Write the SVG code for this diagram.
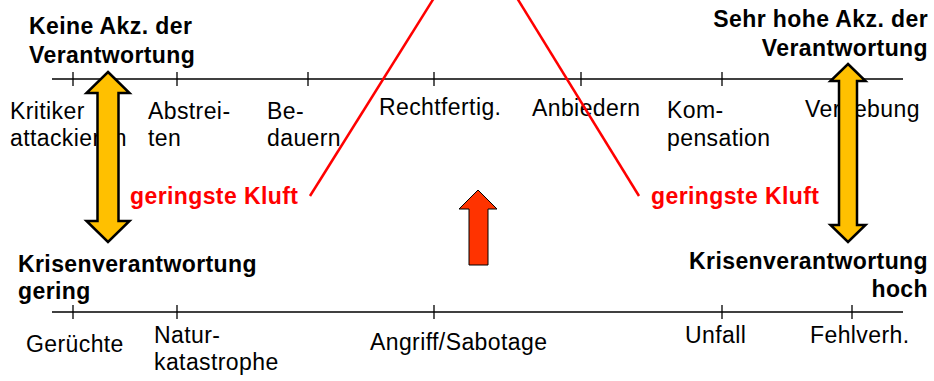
<svg xmlns="http://www.w3.org/2000/svg" width="934" height="381" viewBox="0 0 934 381">
<style>
text{font-family:"Liberation Sans",Arial,sans-serif;font-size:23px;letter-spacing:0.4px;fill:#000}
.b{font-weight:bold}
.r{text-anchor:end}
.red{fill:#FF0000;font-weight:bold}
.axis{stroke:#000;stroke-width:1.5;fill:none}
.tick{stroke:#000;stroke-width:1.3}
.gap{stroke:#FF0000;stroke-width:2.5;fill:none}
.yel{fill:#FFC000;stroke:#000;stroke-width:2.5;stroke-linejoin:miter}
.ora{fill:#FF3300;stroke:#000;stroke-width:1}
</style>
<rect width="934" height="381" fill="#fff"/>
<g id="axes">
<line class="axis" x1="52" y1="79" x2="903" y2="79"/>
<line class="axis" x1="52" y1="312" x2="903" y2="312"/>
<g class="tick">
<line x1="73" y1="72" x2="73" y2="86"/><line x1="177" y1="72" x2="177" y2="86"/><line x1="308" y1="72" x2="308" y2="86"/><line x1="434" y1="72" x2="434" y2="86"/><line x1="581" y1="72" x2="581" y2="86"/><line x1="722" y1="72" x2="722" y2="86"/><line x1="852" y1="72" x2="852" y2="86"/>
<line x1="73" y1="305" x2="73" y2="319"/><line x1="177" y1="305" x2="177" y2="319"/><line x1="434" y1="305" x2="434" y2="319"/><line x1="722" y1="305" x2="722" y2="319"/><line x1="852" y1="305" x2="852" y2="319"/>
</g>
</g>
<g id="heading-left"><text class="b" x="29" y="34">Keine Akz. der</text><text class="b" x="29" y="63">Verantwortung</text></g>
<g id="heading-right"><text class="b r" x="928" y="27">Sehr hohe Akz. der</text><text class="b r" x="928" y="56">Verantwortung</text></g>
<g id="s-kritiker"><text x="10" y="119">Kritiker</text><text x="10" y="146">attackieren</text></g>
<g id="s-abstreiten"><text x="148" y="119">Abstrei-</text><text x="148" y="146">ten</text></g>
<g id="s-bedauern"><text x="267" y="119">Be-</text><text x="267" y="146">dauern</text></g>
<g id="s-recht"><text x="379" y="115">Rechtfertig.</text></g>
<g id="s-anbiedern"><text x="532" y="116">Anbiedern</text></g>
<g id="s-komp"><text x="667" y="118">Kom-</text><text x="667" y="146">pensation</text></g>
<g id="s-vergebung"><text x="805" y="117">Vergebung</text></g>
<g id="label-low"><text class="b" x="18" y="272">Krisenverantwortung</text><text class="b" x="18" y="299">gering</text></g>
<g id="label-high"><text class="b r" x="928" y="269">Krisenverantwortung</text><text class="b r" x="928" y="297">hoch</text></g>
<g id="c-geruechte"><text x="26" y="352">Gerüchte</text></g>
<g id="c-natur"><text x="154" y="343">Natur-</text><text x="154" y="370">katastrophe</text></g>
<g id="c-angriff"><text x="370" y="350">Angriff/Sabotage</text></g>
<g id="c-unfall"><text x="685" y="343">Unfall</text></g>
<g id="c-fehl"><text x="810" y="343">Fehlverh.</text></g>
<g id="connectors">
<line class="gap" x1="434" y1="-2" x2="310" y2="196"/>
<line class="gap" x1="517" y1="-2" x2="639" y2="196"/>
</g>
<g id="gap-left"><text class="red" x="130" y="204">geringste Kluft</text></g>
<g id="gap-right"><text class="red" x="651" y="204">geringste Kluft</text></g>
<g id="arrow-left"><polygon class="yel" points="108,72 129.5,93 118.5,93 118.5,221 129.5,221 108,242 86.5,221 97.5,221 97.5,93 86.5,93"/></g>
<g id="arrow-right"><polygon class="yel" points="848,64 865.5,81 857,81 857,225 865.5,225 848,242 830.5,225 839,225 839,81 830.5,81"/></g>
<g id="arrow-mid"><polygon class="ora" points="478,190 497,209 488,209 488,265 469,265 469,209 459,209"/></g>
</svg>
